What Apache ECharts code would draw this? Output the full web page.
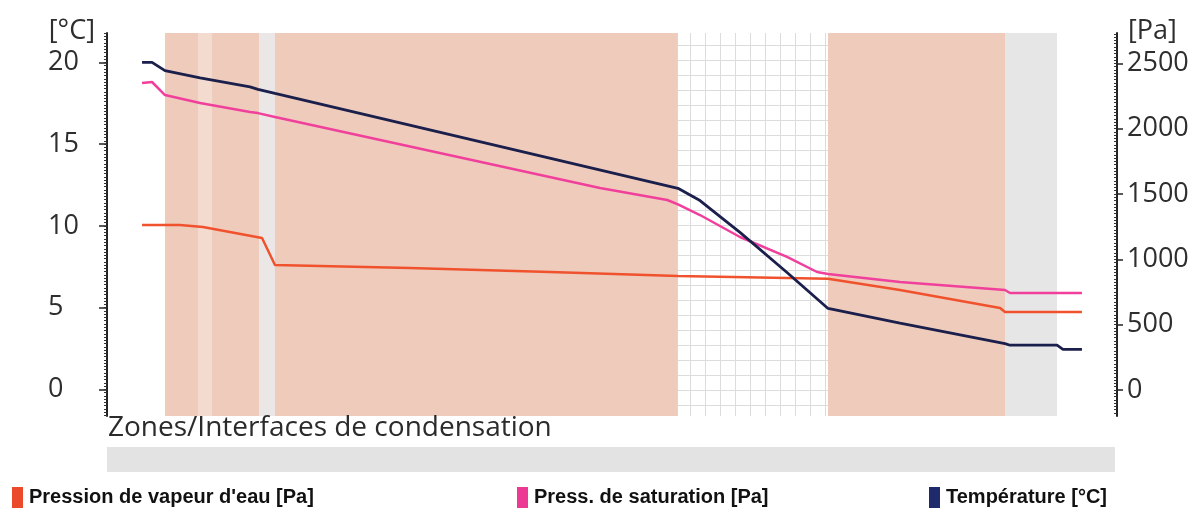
<!DOCTYPE html>
<html>
<head>
<meta charset="utf-8">
<script src="https://cdn.jsdelivr.net/npm/echarts@6/dist/echarts.min.js"></script>
<style>html,body{margin:0;padding:0;background:#fff}#c{width:1199px;height:511px}</style>
</head>
<body>
<div id="c"></div>
<script>
// ---- data ----
const seriesNames = ["Pression de vapeur d'eau [Pa]", "Press. de saturation [Pa]", "Température [°C]"];
// position along construction (arbitrary units 0..100)
const vapourX   = [3.47, 7.23, 9.50, 15.35, 16.63, 30.00, 43.86, 56.53, 71.39, 78.51, 88.42, 88.91, 96.53];
const vapourPa  = [1262, 1262, 1247, 1163, 956, 933, 903, 872, 852, 765, 627, 597, 597];
const satX      = [3.47, 4.46, 5.74, 9.21, 14.16, 14.95, 16.63, 48.81, 55.47, 56.53, 58.71, 62.67, 67.33, 70.30, 71.39, 78.51, 88.91, 89.41, 96.53];
const satPa     = [2349, 2357, 2257, 2196, 2127, 2119, 2089, 1546, 1454, 1420, 1339, 1171, 1018, 903, 888, 826, 765, 742, 742];
const tempX     = [3.47, 4.46, 5.74, 9.21, 14.16, 14.95, 16.63, 56.53, 58.71, 62.67, 67.33, 71.39, 78.51, 88.91, 89.41, 94.06, 94.65, 96.53];
const tempC     = [20.0, 20.0, 19.5, 19.05, 18.5, 18.35, 18.1, 12.3, 11.55, 9.6, 7.15, 4.95, 4.05, 2.8, 2.7, 2.7, 2.45, 2.45];
// construction layers (zones)
const layerStart = [5.74, 9.01, 10.40, 15.05, 16.63, 56.53, 71.39, 88.91];
const layerEnd   = [9.01, 10.40, 15.05, 16.63, 56.53, 71.39, 88.91, 94.06];
const layerKind  = ['pink', 'light', 'pink', 'gray', 'pink', 'grid', 'pink', 'lightgray'];
// axis tick labels
const tempTicks = [0, 5, 10, 15, 20];
const paTicks   = [0, 500, 1000, 1500, 2000, 2500];
const tempRange = [-1.63, 21.8];
const paRange   = [-199, 2732];

// ---- styles ----
const colors = ['#f0522d', '#f0409c', '#1b1f4c'];
const legendColors = ['#ea4a2a', '#ec3a94', '#1f2a6c'];
function gridPattern() {
  const c = document.createElement('canvas');
  c.width = 15; c.height = 15;
  const g = c.getContext('2d');
  g.fillStyle = '#ffffff'; g.fillRect(0, 0, 15, 15);
  g.fillStyle = '#dcdcdc';
  g.fillRect(0, 0, 15, 1);
  g.fillRect(0, 0, 1, 15);
  return c;
}
const kindColor = {
  pink: '#eecbbb',
  light: '#f3dbd0',
  gray: '#ebe7e6',
  lightgray: '#e6e6e6',
  grid: { image: gridPattern(), repeat: 'repeat' }
};

function minorValues(a, b, step) {
  const out = [];
  for (let v = Math.ceil(a / step) * step; v <= b + 1e-9; v += step) out.push(+v.toFixed(4));
  return out;
}

const zip = (xs, ys) => xs.map((x, i) => [x, ys[i]]);
const plain = v => String(v);

const labelStyle = { fontFamily: 'Open Sans', fontSize: 27, color: '#2e2e2e' };

const chart = echarts.init(document.getElementById('c'));
chart.setOption({
  animation: false,
  backgroundColor: '#ffffff',
  grid: { left: 107, right: 82, top: 33, bottom: 95 },
  title: {
    text: 'Zones/Interfaces de condensation',
    left: 103, top: 409,
    textStyle: { fontFamily: 'Open Sans', fontSize: 28, fontWeight: 'normal', color: '#2b2b2b' }
  },
  graphic: [{
    type: 'rect', shape: { x: 107, y: 447, width: 1008, height: 25 },
    style: { fill: '#e3e3e3' }, silent: true
  }],
  legend: seriesNames.map((n, i) => ({
    data: [n],
    left: [12, 517, 929][i],
    top: 487,
    padding: 0,
    icon: 'rect',
    itemWidth: 11,
    itemHeight: 21,
    selectedMode: false,
    textStyle: { fontFamily: 'Liberation Sans', fontWeight: 'bold', fontSize: 20, color: '#111', padding: [0, 0, 0, 1] }
  })),
  xAxis: {
    type: 'value', min: 0, max: 100,
    axisLine: { show: false }, axisTick: { show: false }, axisLabel: { show: false }, splitLine: { show: false }
  },
  yAxis: [
    {
      type: 'value', position: 'left', min: tempRange[0], max: tempRange[1],
      name: '[°C]', nameLocation: 'end', nameGap: 2,
      nameTextStyle: Object.assign({}, labelStyle, { align: 'right', verticalAlign: 'middle', padding: [0, 12, 0, 0] }),
      axisLine: { show: true, lineStyle: { color: '#222', width: 2 } },
      axisTick: { show: true, customValues: tempTicks, length: 8, lineStyle: { color: '#222', width: 1.5 } },
      axisLabel: Object.assign({ customValues: tempTicks, align: 'left', margin: 59, formatter: plain }, labelStyle),
      splitLine: { show: false }
    },
    {
      type: 'value', position: 'left', min: tempRange[0], max: tempRange[1],
      axisLine: { show: false },
      axisTick: { show: true, customValues: minorValues(tempRange[0], tempRange[1], 0.2), length: 3, lineStyle: { color: '#333', width: 1 } },
      axisLabel: { show: false }, splitLine: { show: false }
    },
    {
      type: 'value', position: 'right', min: paRange[0], max: paRange[1],
      name: '[Pa]', nameLocation: 'end', nameGap: 2,
      nameTextStyle: Object.assign({}, labelStyle, { align: 'left', verticalAlign: 'middle', padding: [0, 0, 0, 11] }),
      axisLine: { show: true, lineStyle: { color: '#222', width: 2 } },
      axisTick: { show: true, customValues: paTicks, length: 6, lineStyle: { color: '#222', width: 1.5 } },
      axisLabel: Object.assign({ customValues: paTicks, align: 'left', margin: 10, formatter: plain }, labelStyle),
      splitLine: { show: false }
    },
    {
      type: 'value', position: 'right', min: paRange[0], max: paRange[1],
      axisLine: { show: false },
      axisTick: { show: true, customValues: minorValues(paRange[0], paRange[1], 25), length: 3, inside: true, lineStyle: { color: '#333', width: 1 } },
      axisLabel: { show: false }, splitLine: { show: false }
    }
  ],
  series: [
    {
      type: 'line', data: [], yAxisIndex: 0, silent: true, z: 1,
      markArea: {
        silent: true,
        data: layerStart.map((s, i) => [
          { xAxis: s, itemStyle: { color: kindColor[layerKind[i]], borderWidth: 0 } },
          { xAxis: layerEnd[i] }
        ])
      }
    },
    {
      name: seriesNames[0], type: 'line', yAxisIndex: 2, data: zip(vapourX, vapourPa),
      symbol: 'none', z: 3, lineStyle: { color: colors[0], width: 2.5 }, itemStyle: { color: legendColors[0] }
    },
    {
      name: seriesNames[1], type: 'line', yAxisIndex: 2, data: zip(satX, satPa),
      symbol: 'none', z: 3, lineStyle: { color: colors[1], width: 2.5 }, itemStyle: { color: legendColors[1] }
    },
    {
      name: seriesNames[2], type: 'line', yAxisIndex: 0, data: zip(tempX, tempC),
      symbol: 'none', z: 4, lineStyle: { color: colors[2], width: 2.8 }, itemStyle: { color: legendColors[2] }
    }
  ]
});
</script>
</body>
</html>
